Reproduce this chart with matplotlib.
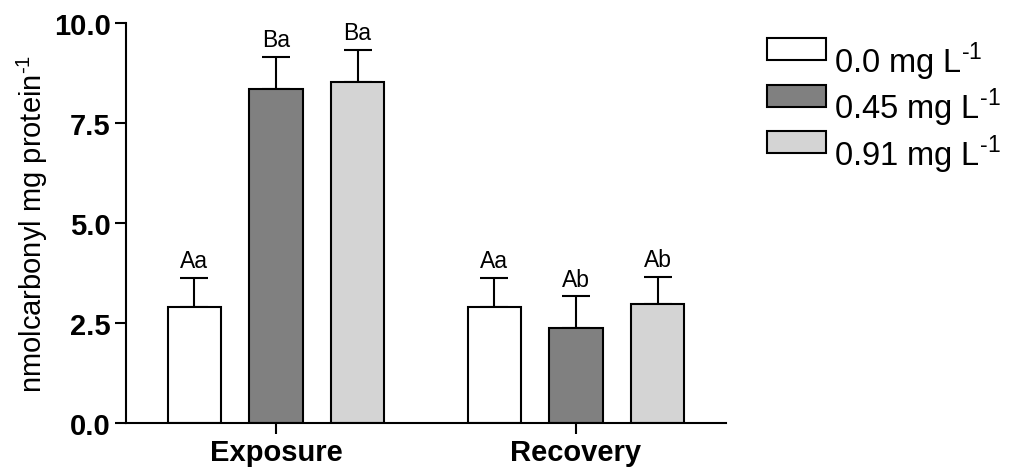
import matplotlib
matplotlib.use("Agg")
import matplotlib.pyplot as plt
from matplotlib.patches import Rectangle
import numpy as np

plt.rcParams['font.family'] = ['Liberation Sans', 'DejaVu Sans']
plt.rcParams['mathtext.fontset'] = 'custom'
plt.rcParams['mathtext.rm'] = 'Liberation Sans'

# data
groups = ["Exposure", "Recovery"]
series = [r"0.0 mg L$^{\text{-1}}$", r"0.45 mg L$^{\text{-1}}$", r"0.91 mg L$^{\text{-1}}$"]
means = [[2.90, 2.90],
         [8.36, 2.37],
         [8.53, 2.96]]
errors = [[0.72, 0.72],
          [0.79, 0.79],
          [0.80, 0.69]]
letters = [["Aa", "Aa"],
           ["Ba", "Ab"],
           ["Ba", "Ab"]]
colors = ["white", "#808080", "#d4d4d4"]

fig = plt.figure(figsize=(10.13, 4.77), dpi=100)
ax = fig.add_axes([0.1244, 0.1117, 0.5923, 0.8380])

x = np.arange(len(groups))
spacing = 0.272
width = 0.178

for i in range(len(series)):
    pos = x + (i - 1) * spacing
    ax.bar(pos, means[i], width, color=colors[i], edgecolor="black", linewidth=1.5, zorder=2)
    ax.errorbar(pos, means[i], yerr=[np.zeros(len(groups)), errors[i]], fmt="none",
                ecolor="black", elinewidth=1.5, capsize=10, capthick=1.5, zorder=1)
    for j in range(len(groups)):
        ax.annotate(letters[i][j], (pos[j], means[i][j] + errors[i][j]),
                    xytext=(0, 7.7), textcoords="offset points",
                    ha="center", va="baseline", fontsize=16.5)

ax.set_xlim(-0.5, 1.5)
ax.set_ylim(0, 10)
ax.set_yticks([0, 2.5, 5, 7.5, 10])
ax.set_yticklabels(["0.0", "2.5", "5.0", "7.5", "10.0"])
ax.set_xticks(x)
ax.set_xticklabels(groups)
for lab in ax.get_xticklabels() + ax.get_yticklabels():
    lab.set_fontweight("bold")
    lab.set_fontsize(21)
ax.tick_params(axis="both", length=8, width=1.5, pad=3)

ax.spines["top"].set_visible(False)
ax.spines["right"].set_visible(False)
ax.spines["left"].set_linewidth(1.5)
ax.spines["bottom"].set_linewidth(1.5)

ax.set_ylabel(r"nmolcarbonyl mg protein$^{\text{-1}}$", fontsize=21)
ax.yaxis.set_label_coords(-0.127, 0.5)

# legend drawn by hand so the text sits below the box centre like the original
W, H = 1013.0, 477.0
for i in range(len(series)):
    top = 39.3 + i * 46.3
    fig.patches.append(Rectangle((766.7 / W, 1 - (top + 22) / H), 59 / W, 22 / H,
                                 transform=fig.transFigure, facecolor=colors[i],
                                 edgecolor="black", linewidth=1.5))
    fig.text(834 / W, 1 - (73.3 + i * 46.2) / H, series[i], fontsize=23.5, va="baseline")

fig.savefig("out.png", dpi=100)
